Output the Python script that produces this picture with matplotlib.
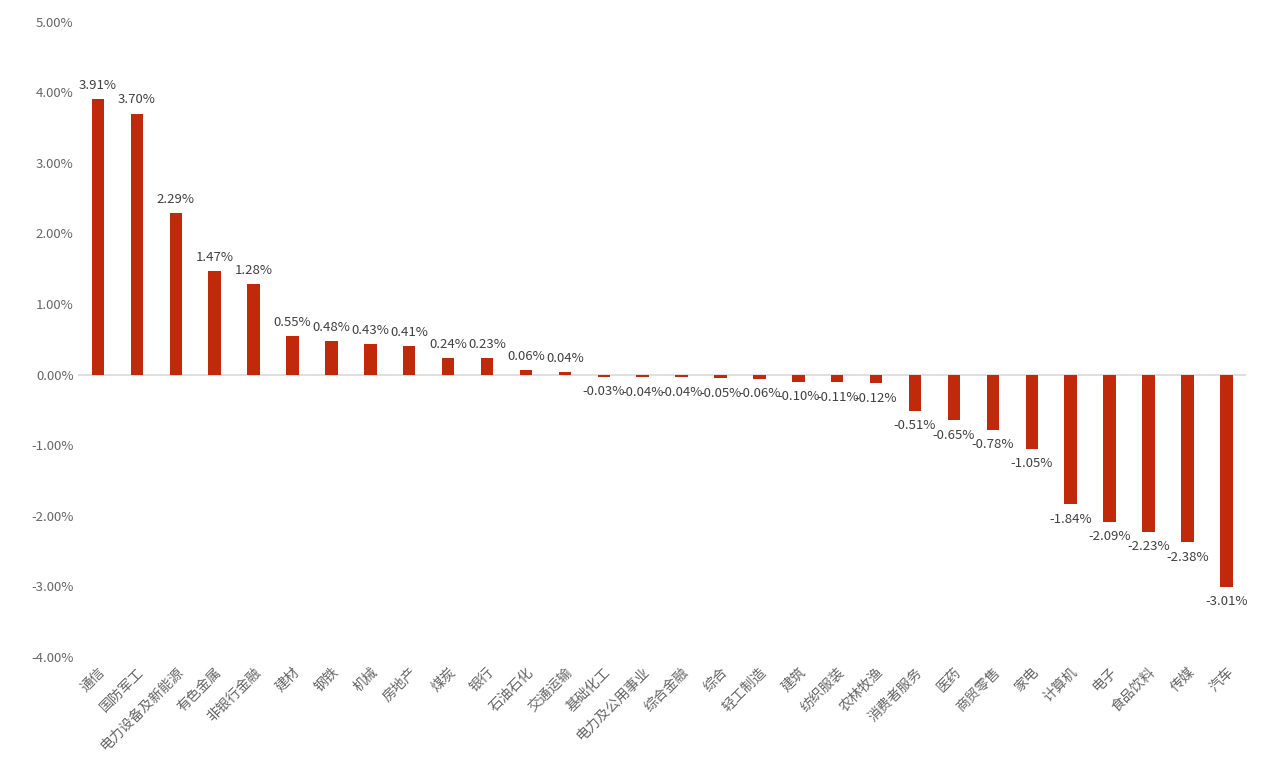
import matplotlib
matplotlib.use("Agg")
import matplotlib.pyplot as plt
from matplotlib.ticker import FuncFormatter

plt.rcParams['font.family'] = ['Noto Sans CJK SC', 'DejaVu Sans']

industries = ['通信', '国防军工', '电力设备及新能源', '有色金属', '非银行金融', '建材', '钢铁', '机械',
              '房地产', '煤炭', '银行', '石油石化', '交通运输', '基础化工', '电力及公用事业', '综合金融',
              '综合', '轻工制造', '建筑', '纺织服装', '农林牧渔', '消费者服务', '医药', '商贸零售',
              '家电', '计算机', '电子', '食品饮料', '传媒', '汽车']
returns = [3.91, 3.70, 2.29, 1.47, 1.28, 0.55, 0.48, 0.43, 0.41, 0.24, 0.23, 0.06, 0.04,
           -0.03, -0.04, -0.04, -0.05, -0.06, -0.10, -0.11, -0.12, -0.51, -0.65, -0.78,
           -1.05, -1.84, -2.09, -2.23, -2.38, -3.01]

fig = plt.figure(figsize=(12.66, 7.8), dpi=100)
ax = fig.add_axes([0.062, 0.158, 0.922, 0.814])

x = range(len(industries))
bars = ax.bar(x, returns, width=0.32, color='#C02A0A', zorder=2)

# 数据标签
for xi, v in zip(x, returns):
    if v >= 0:
        ax.text(xi, v + 0.1, f'{v:.2f}%', ha='center', va='bottom', fontsize=9.5, color='#404040')
    else:
        ax.text(xi, v - 0.12, f'{v:.2f}%', ha='center', va='top', fontsize=9.5, color='#404040')

ax.axhline(0, color='#D9D9D9', lw=1.2, zorder=1)
ax.set_ylim(-4, 5)
ax.set_yticks([-4, -3, -2, -1, 0, 1, 2, 3, 4, 5])
ax.yaxis.set_major_formatter(FuncFormatter(lambda v, p: f'{v:.2f}%'))
ax.set_xlim(-0.5, 29.5)
ax.set_xticks(list(x))
ax.set_xticklabels(industries, rotation=45, ha='right', rotation_mode='anchor',
                   fontsize=10, color='#666666')
ax.tick_params(axis='both', length=0, labelsize=9.5, labelcolor='#666666')
ax.tick_params(axis='x', pad=6, labelsize=10)
for s in ax.spines.values():
    s.set_visible(False)

fig.savefig('out.png', dpi=100, facecolor='white')
